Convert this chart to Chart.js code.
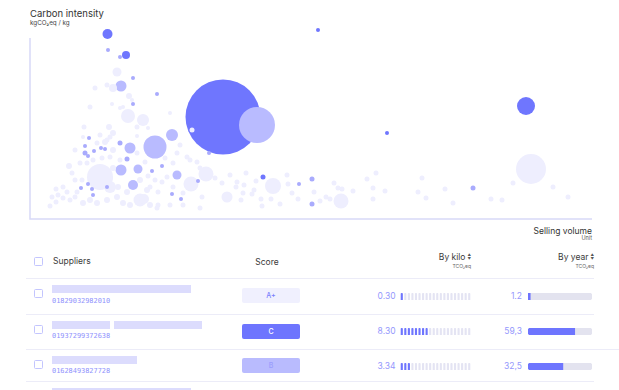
<!DOCTYPE html>
<html>
<head>
<meta charset="utf-8">
<script src="https://cdn.jsdelivr.net/npm/chart.js@4.4.1/dist/chart.umd.min.js"></script>
<style>
  body { margin: 0; width: 619px; height: 390px; overflow: hidden; background: #fff; position: relative; font-family: Inter, "Noto Sans", sans-serif; }
  .abs { position: absolute; white-space: nowrap; }
  .title { left: 30px; top: 8px; font-size: 9.5px; line-height: 12px; color: #333; }
  .unit { left: 30px; top: 19px; font-size: 6.3px; line-height: 8px; color: #444; }
  .xtitle { right: 27px; top: 226px; font-size: 8.5px; line-height: 10px; color: #333; }
  .xunit { right: 27px; top: 235px; font-size: 5.5px; line-height: 7px; color: #555; }
  .check { width: 7px; height: 7px; border: 1.2px solid #c3c5fe; border-radius: 1.5px; }
  .head { font-size: 8.5px; line-height: 11px; color: #3a3a3a; }
  .sub { font-size: 5px; line-height: 7px; color: #666; }
  .sort { display: inline-block; vertical-align: middle; margin-left: 2px; font-size: 3.5px; line-height: 3.3px; color: #555; }
  .sort i { display: block; font-style: normal; }
  .sep { height: 1px; background: #ececf8; }
  .ph { height: 8px; background: #dcdcfd; }
  .sid { font-family: "DejaVu Sans Mono", monospace; font-size: 6.9px; line-height: 9px; color: #8e91fd; }
  .badge { width: 58px; height: 15px; border-radius: 2px; font-size: 7px; line-height: 15px; text-align: center; font-weight: 500; }
  .val { font-size: 8.5px; line-height: 11px; color: #9598fd; text-align: right; }
</style>
</head>
<body>
<div class="abs title">Carbon intensity</div>
<div class="abs unit">kgCO₂eq / kg</div>
<canvas id="bubbles" width="619" height="222" style="position:absolute;left:0;top:0"></canvas>
<div class="abs xtitle">Selling volume</div>
<div class="abs xunit">Unit</div>
<div id="table"></div>

<script>
// [selling volume (units), carbon intensity (kgCO2eq/kg), bubble radius]
const darkSuppliers = [
  [155, 18.5, 5], [192, 16.4, 4], [576, 18.9, 2], [992, 11.3, 9],
  [714, 8.6, 2], [466, 4.2, 2.5], [386, 10.2, 37.5],
];

const softSuppliers = [
  [454, 9.4, 18], [250, 7.2, 11.5], [284, 8.4, 6], [182, 13.3, 5.5],
  [200, 7.1, 5.5], [182, 4.9, 5.5], [216, 5.0, 4.5], [294, 4.4, 4.5], [206, 3.4, 5],
];

const midSuppliers = [
  [156, 16.9, 2], [180, 16.2, 2], [206, 14.1, 2], [254, 12.5, 2], [206, 11.5, 2],
  [118, 8.1, 2], [110, 7.3, 2], [128, 6.8, 2], [142, 7.1, 2], [150, 7.0, 2],
  [110, 6.6, 2.5], [116, 6.3, 2], [180, 7.6, 2.5], [194, 6.0, 2.5], [264, 5.3, 2],
  [244, 4.8, 2], [102, 3.1, 2], [116, 3.5, 2], [124, 3.0, 2], [126, 2.4, 2],
  [154, 3.2, 2], [284, 2.5, 2], [302, 2.0, 2], [336, 3.8, 2], [358, 6.6, 2],
  [538, 3.5, 2], [564, 4.0, 2.5], [564, 1.5, 2.5], [886, 3.1, 2.5],
];

const paleSuppliers = [
  [1002, 5.0, 15], [140, 4.2, 13], [196, 10.3, 7], [226, 9.9, 6], [486, 3.3, 8],
  [622, 1.8, 7.5], [352, 4.5, 7.5], [322, 3.5, 7.5], [220, 1.9, 6.5], [228, 2.0, 5],
  [394, 2.2, 5.5], [174, 14.7, 4.5], [166, 13.1, 4], [160, 3.2, 6],
  [154, 13.4, 2.5], [130, 13.1, 2.5], [198, 12.3, 3], [204, 11.9, 2], [164, 11.5, 2],
  [180, 11.1, 2], [186, 11.2, 2], [120, 11.2, 2.5], [280, 10.6, 2], [108, 9.2, 2.5],
  [158, 9.2, 3], [214, 9.2, 2.5], [166, 8.6, 3], [236, 9.1, 2], [324, 8.9, 2.5],
  [214, 8.3, 2], [154, 7.9, 2.5], [134, 7.6, 2.5], [140, 8.4, 2.5], [106, 8.2, 2], [160, 8.2, 2.5],
  [78, 5.3, 3], [100, 5.6, 2.5], [114, 5.6, 2.5], [126, 5.9, 2.5], [144, 6.1, 2.5],
  [160, 6.2, 2.5], [166, 5.1, 3], [160, 4.1, 3], [176, 3.2, 3], [90, 3.9, 2.5],
  [104, 3.9, 2.5], [66, 3.2, 2.5], [94, 2.7, 2.5], [74, 2.7, 2.5], [56, 2.4, 2.5],
  [52, 3.0, 2.5], [40, 1.3, 2.5], [52, 1.7, 2.5], [66, 2.1, 2.5], [80, 1.9, 2.5],
  [90, 2.2, 2.5], [106, 1.6, 3], [120, 1.9, 3], [134, 1.6, 3], [154, 1.9, 3],
  [174, 2.2, 3], [186, 1.6, 3], [194, 2.7, 3], [44, 2.2, 2.5], [200, 1.4, 3],
  [240, 1.4, 3], [256, 1.4, 2.5],
  [214, 6.6, 2.5], [230, 5.7, 2.5], [270, 6.1, 2.5], [300, 7.4, 2.5], [314, 6.2, 2.5],
  [294, 6.6, 2.5], [286, 5.6, 2.5], [274, 4.2, 2.5], [264, 3.7, 2.5], [240, 3.2, 2.5],
  [256, 2.7, 2.5], [286, 3.2, 2.5], [306, 2.6, 2.5], [344, 2.2, 2.5], [370, 4.1, 2.5],
  [384, 3.6, 2.5], [334, 5.7, 2.5], [340, 5.1, 2.5], [320, 5.9, 2.5], [306, 1.4, 2.5],
  [340, 1.1, 2.5], [280, 1.4, 2.5], [254, 1.1, 2.5],
  [150, 7.7, 3], [166, 6.9, 3], [90, 6.9, 2.5], [84, 4.6, 2.5], [180, 5.9, 2.5],
  [220, 3.9, 3], [236, 4.3, 2.5], [250, 3.9, 2.5], [234, 2.9, 3],
  [400, 4.4, 2.5], [432, 4.6, 2.5], [414, 3.7, 2.5], [412, 3.2, 2.5], [428, 3.4, 2.5],
  [452, 3.8, 2.5], [448, 2.9, 2.5], [426, 2.6, 2.5], [444, 2.5, 2.5], [422, 1.9, 2.5],
  [462, 2.0, 2.5], [482, 2.0, 2.5], [464, 1.3, 2.5], [500, 1.5, 2.5], [514, 4.4, 2.5],
  [516, 3.5, 2.5], [524, 2.6, 2.5], [536, 2.0, 2.5], [568, 2.7, 2.5], [580, 1.8, 2.5],
  [592, 2.2, 2.5], [600, 2.0, 2.5], [608, 3.6, 2.5], [616, 3.1, 2.5], [624, 3.0, 2.5],
  [646, 2.8, 2.5], [674, 4.0, 2.5], [692, 4.6, 2.5], [686, 3.1, 2.5], [710, 2.8, 2.5],
  [686, 2.0, 2.5], [784, 4.1, 2.5], [776, 2.7, 2.5], [792, 2.1, 2.5], [830, 3.0, 2.5],
  [846, 1.6, 2.5], [922, 2.0, 2.5], [944, 1.9, 2.5], [966, 3.6, 2.5], [1046, 3.2, 2.5],
  [1076, 2.2, 2.5],
];

// table rows
const supplierIds = ["01829032982010", "01937299372638", "01628493827728"];
const scores = ["A+", "C", "B"];
const byKilo = [0.30, 8.30, 3.34];
const byYear = ["1.2", "59,3", "32,5"];
const byYearShare = [3.5, 73, 54.5];

const X_MAX = 1124;
const Y_AXIS_TOP = 18.1; // where the drawn y axis line stops
const Y_MAX = 19.4;      // a bit of room above it for the highest bubbles
const SEGMENTS = 20;
const ACCENT = "#6e75fe";

const tiers = [
  { points: paleSuppliers, color: "#eeeefe" },
  { points: softSuppliers, color: "#b9bbff" },
  { points: midSuppliers, color: "#a9abfd" },
  { points: darkSuppliers, color: "#6f76fe" },
];

// big bubbles first so the small ones stay visible on top
const bubbles = [];
tiers.forEach((tier) => {
  tier.points.forEach(([x, y, r]) => bubbles.push({ x, y, r, color: tier.color }));
});
bubbles.sort((a, b) => b.r - a.r);

const axisLines = {
  id: "axisLines",
  beforeDatasetsDraw(chart) {
    const { ctx, scales: { x, y } } = chart;
    const left = x.getPixelForValue(0);
    const right = x.getPixelForValue(X_MAX);
    const bottom = y.getPixelForValue(0);
    const top = y.getPixelForValue(Y_AXIS_TOP);
    ctx.save();
    ctx.strokeStyle = "#d8d9f8";
    ctx.lineWidth = 1.5;
    ctx.beginPath();
    ctx.moveTo(left, top);
    ctx.lineTo(left, bottom);
    ctx.lineTo(right, bottom);
    ctx.stroke();
    ctx.restore();
  },
};

const hiddenAxis = {
  ticks: { display: false },
  grid: { display: false, drawTicks: false },
  border: { display: false },
};

new Chart(document.getElementById("bubbles"), {
  type: "bubble",
  data: {
    datasets: [
      {
        data: bubbles,
        backgroundColor: bubbles.map((b) => b.color),
        borderWidth: 0,
        hoverBorderWidth: 0,
        clip: false,
      },
    ],
  },
  options: {
    responsive: false,
    animation: false,
    events: [],
    layout: { autoPadding: false, padding: { left: 30, right: 27, top: 25, bottom: 3 } },
    plugins: { legend: { display: false }, tooltip: { enabled: false } },
    scales: {
      x: { ...hiddenAxis, min: 0, max: X_MAX },
      y: { ...hiddenAxis, min: 0, max: Y_MAX },
    },
  },
  plugins: [axisLines],
});

const tableEl = document.getElementById("table");

const addEl = (className, style, html) => {
  const el = document.createElement("div");
  el.className = `abs ${className}`;
  Object.assign(el.style, style);
  if (html !== undefined) el.innerHTML = html;
  tableEl.appendChild(el);
  return el;
};

const addCanvas = (left, top, width, height) => {
  const canvas = document.createElement("canvas");
  canvas.width = width;
  canvas.height = height;
  canvas.style.position = "absolute";
  canvas.style.left = `${left}px`;
  canvas.style.top = `${top}px`;
  tableEl.appendChild(canvas);
  return canvas;
};

const sortIcon = '<span class="sort"><i>▲</i><i>▼</i></span>';

// header
addEl("check", { left: "34px", top: "257px" });
addEl("head", { left: "53px", top: "256px" }, "Suppliers");
addEl("head", { left: "237px", top: "256.5px", width: "60px", textAlign: "center" }, "Score");
addEl("head", { right: "148px", top: "252px" }, `By kilo${sortIcon}`);
addEl("sub", { right: "148px", top: "262.5px" }, "TCO₂eq");
addEl("head", { right: "25px", top: "252px" }, `By year${sortIcon}`);
addEl("sub", { right: "25px", top: "262.5px" }, "TCO₂eq");
addEl("sep", { left: "26px", top: "278px", width: "568px" });

const rowCenters = [296, 331.5, 366.3];
const rowLines = [[314, 568], [349, 593], [381, 568]];
const namePlaceholders = [[[52, 139]], [[52, 58], [114, 88]], [[52, 85]]];
const badgeStyles = {
  "A+": { background: "#f0f0fe", color: "#7c80fd" },
  C: { background: ACCENT, color: "#fff" },
  B: { background: "#b9bbfe", color: "#9a9dfd" },
};

const renderSegments = (canvas, value) => {
  const labels = Array.from({ length: SEGMENTS }, (_, i) => i + 1);
  const lit = Math.max(1, Math.round(value));
  new Chart(canvas, {
    type: "bar",
    data: {
      labels,
      datasets: [
        {
          data: labels.map(() => 1),
          backgroundColor: labels.map((n) => (n <= lit ? ACCENT : "#e4e4f3")),
          barPercentage: 0.6,
          categoryPercentage: 1,
          borderRadius: 0.8,
        },
      ],
    },
    options: {
      responsive: false,
      animation: false,
      events: [],
      plugins: { legend: { display: false }, tooltip: { enabled: false } },
      scales: { x: { display: false }, y: { display: false, min: 0, max: 1 } },
    },
  });
};

const renderYearBar = (canvas, share) => {
  new Chart(canvas, {
    type: "bar",
    data: {
      labels: [""],
      datasets: [
        {
          data: [share],
          backgroundColor: ACCENT,
          borderSkipped: false,
          borderRadius: { topLeft: 3.5, bottomLeft: 3.5, topRight: 0, bottomRight: 0 },
        },
        { data: [100], backgroundColor: "#e3e3ef", borderSkipped: false, borderRadius: 3.5 },
      ],
    },
    options: {
      indexAxis: "y",
      responsive: false,
      animation: false,
      events: [],
      datasets: { bar: { grouped: false, barPercentage: 1, categoryPercentage: 1 } },
      plugins: { legend: { display: false }, tooltip: { enabled: false } },
      scales: { x: { display: false, min: 0, max: 100 }, y: { display: false } },
    },
  });
};

rowCenters.forEach((c, i) => {
  addEl("check", { left: "34px", top: `${c - 6.7}px` });
  namePlaceholders[i].forEach(([left, width]) => {
    addEl("ph", { left: `${left}px`, top: `${c - 10.7}px`, width: `${width}px` });
  });
  addEl("sid", { left: "52px", top: `${c + 0.8}px` }, supplierIds[i]);
  addEl("badge", { left: "242px", top: `${c - 8}px`, ...badgeStyles[scores[i]] }, scores[i]);
  addEl("val", { right: "223.5px", top: `${c - 5.5}px` }, byKilo[i].toFixed(2));
  renderSegments(addCanvas(400, Math.round(c - 3.5), 71, 7), byKilo[i]);
  addEl("val", { right: "97px", top: `${c - 5.5}px` }, byYear[i]);
  renderYearBar(addCanvas(528, Math.round(c - 3.5), 64, 7), byYearShare[i]);
  const [y, w] = rowLines[i];
  addEl("sep", { left: "26px", top: `${y}px`, width: `${w}px` });
});

// next row, cut off by the bottom edge
addEl("ph", { left: "52px", top: "388px", width: "139px" });
</script>
</body>
</html>
